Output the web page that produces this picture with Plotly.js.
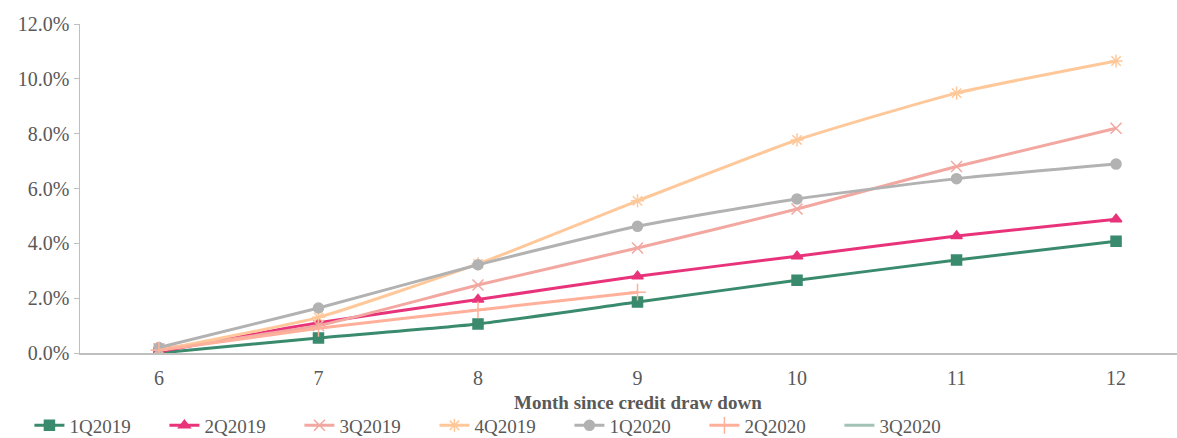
<!DOCTYPE html>
<html>
<head>
<meta charset="utf-8">
<script src="https://cdn.plot.ly/plotly-3.0.1.min.js"></script>
<style>html,body{margin:0;padding:0;background:#fff;}#chart{width:1177px;height:438px;}</style>
</head>
<body>
<div id="chart"></div>
<script>
const months = [6, 7, 8, 9, 10, 11, 12];
const s1Q2019 = [0.0000, 0.0055, 0.0106, 0.0186, 0.0265, 0.0339, 0.0408];
const s2Q2019 = [0.0005, 0.0110, 0.0195, 0.0280, 0.0353, 0.0427, 0.0488];
const s3Q2019 = [0.0015, 0.0100, 0.0248, 0.0383, 0.0525, 0.0680, 0.0820];
const s4Q2019 = [0.0010, 0.0130, 0.0325, 0.0555, 0.0777, 0.0948, 0.1065];
const s1Q2020 = [0.0020, 0.0164, 0.0322, 0.0462, 0.0562, 0.0636, 0.0689];
const s2Q2020 = [0.0010, 0.0090, 0.0157, 0.0222];
const s3Q2020 = [0.0005];
const seriesNames = ['1Q2019','2Q2019','3Q2019','4Q2019','1Q2020','2Q2020','3Q2020'];
const xTitle = 'Month since credit draw down';

const values = [s1Q2019, s2Q2019, s3Q2019, s4Q2019, s1Q2020, s2Q2020, s3Q2020];
const colors = ['#3A8A6E','#E8337A','#F2A7A0','#FFC89A','#B2B2B2','#FFB09A','#A3C4B4'];
const symbols = ['square','triangle-up','x-thin-open','asterisk-open','circle','cross-thin-open','circle'];
const sizes = [10, 10, 11, 11, 10, 12, 0];

const traces = values.map((v, i) => ({
  type: 'scatter',
  mode: sizes[i] ? 'lines+markers' : 'lines',
  name: seriesNames[i],
  x: months.slice(0, v.length),
  y: v,
  line: {color: colors[i], width: 3, shape: 'spline', smoothing: 0.5},
  marker: {symbol: symbols[i], size: sizes[i], color: colors[i], line: {color: colors[i], width: 1.5}}
}));

const FONT = '"Liberation Serif", serif';
const layout = {
  width: 1177, height: 438,
  margin: {l: 80, r: 0, t: 24, b: 85},
  paper_bgcolor: '#fff', plot_bgcolor: '#fff',
  font: {family: FONT, color: '#595959', size: 20},
  showlegend: true,
  xaxis: {
    range: [5.505, 12.382],
    tickvals: months, ticktext: months.map(String),
    showgrid: false, zeroline: false,
    showline: true, linecolor: '#BFBFBF', linewidth: 1.5,
    ticks: '', ticklen: 0, ticklabelstandoff: 6,
    tickfont: {family: FONT, size: 20, color: '#595959'}
  },
  yaxis: {
    range: [0, 0.12], dtick: 0.02, tickformat: '.1%',
    showgrid: false, zeroline: false,
    showline: true, linecolor: '#BFBFBF', linewidth: 1.5,
    ticks: 'outside', ticklen: 5, tickcolor: '#BFBFBF',
    tickfont: {family: FONT, size: 20, color: '#595959'}
  },
  annotations: [{
    text: '<b>' + xTitle + '</b>', showarrow: false,
    xref: 'paper', yref: 'paper', x: 0.509, y: -0.150,
    xanchor: 'center', yanchor: 'middle',
    font: {family: FONT, size: 19, color: '#595959'}
  }],
  legend: {
    orientation: 'h', xref: 'container', yref: 'container',
    x: 0.025, y: 0.072, xanchor: 'left', yanchor: 'top',
    entrywidth: 90, entrywidthmode: 'pixels',
    font: {family: FONT, size: 19, color: '#595959'}, traceorder: 'normal'
  }
};

Plotly.newPlot('chart', traces, layout, {displayModeBar: false, staticPlot: true});
</script>
</body>
</html>
